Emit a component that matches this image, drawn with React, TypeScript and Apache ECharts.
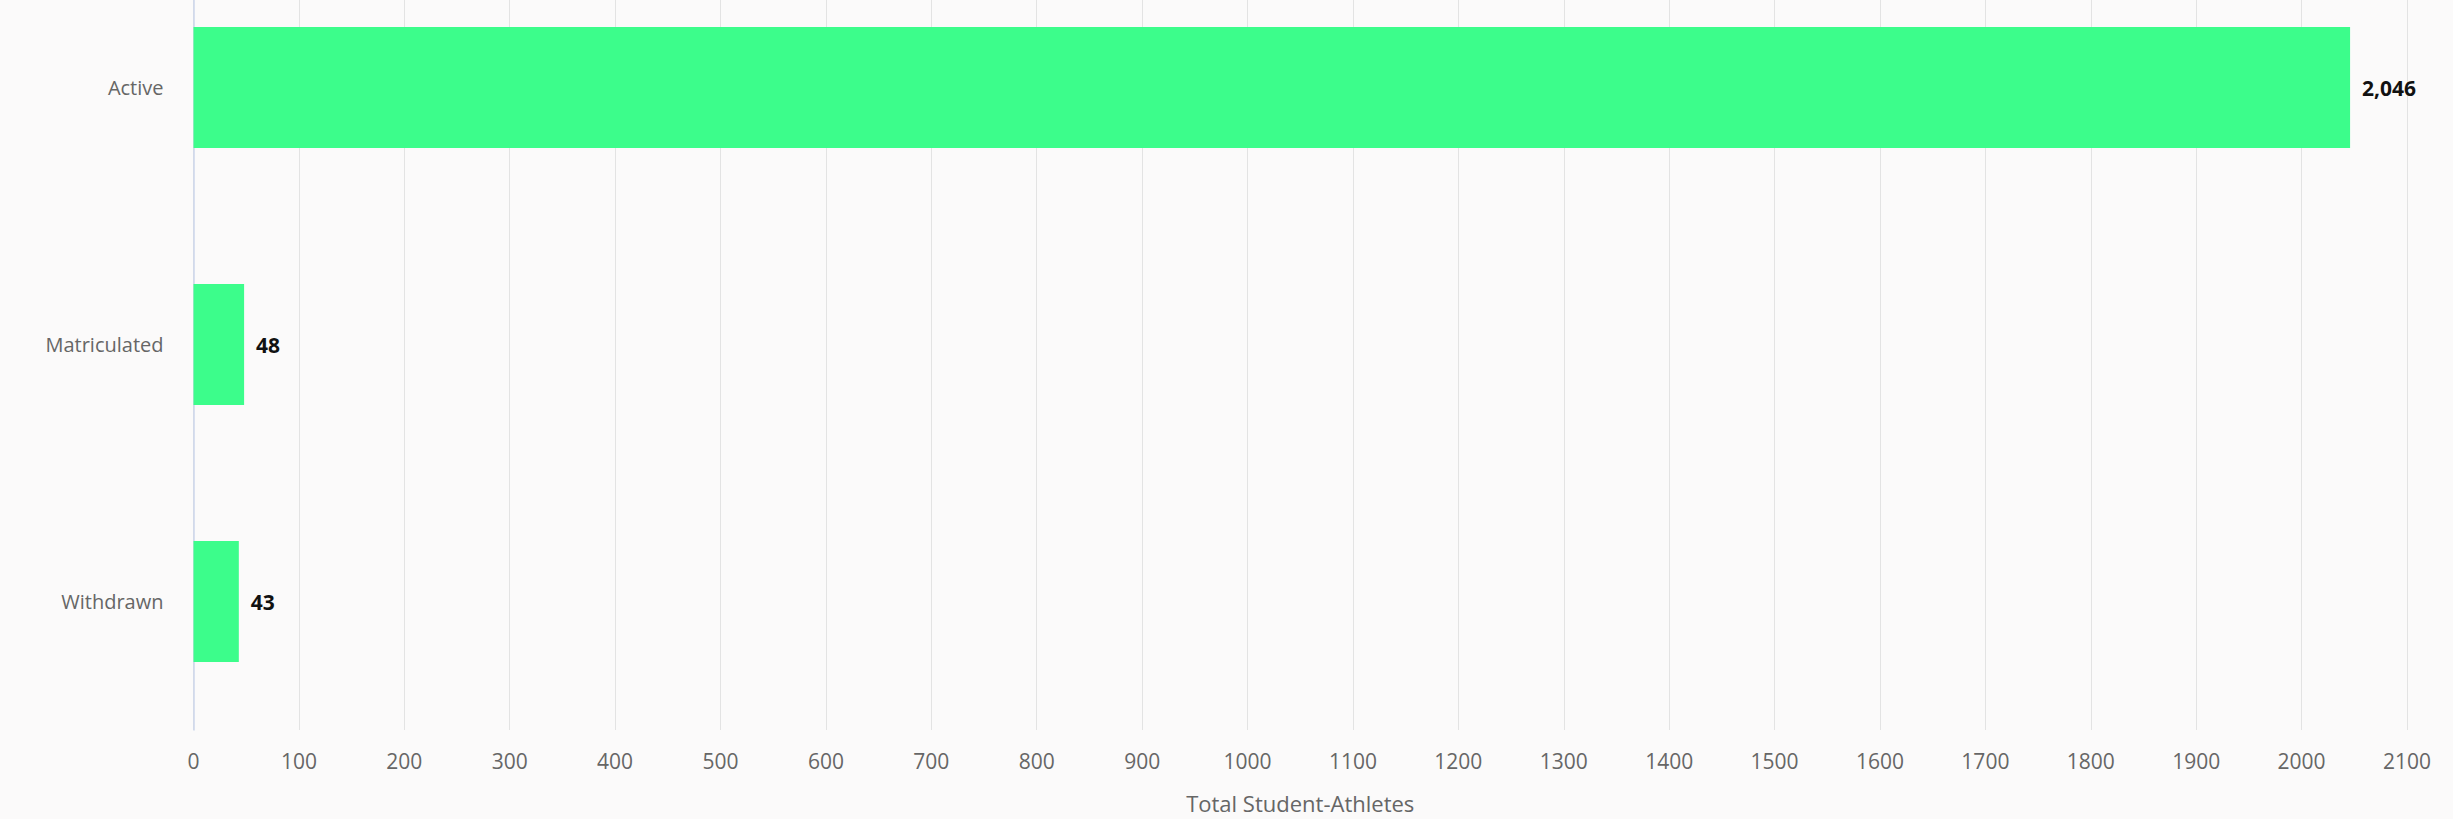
import React, { useEffect, useRef } from "react";
import * as echarts from "echarts";

const categories = ["Active", "Matriculated", "Withdrawn"];
const values = [2046, 48, 43];
const xTicks = { min: 0, max: 2100, interval: 100 };
const xTitle = "Total Student-Athletes";

export default function App() {
  const ref = useRef<HTMLDivElement>(null);
  useEffect(() => {
    if (!ref.current) return;
    const chart = echarts.init(ref.current, undefined, { renderer: "svg" });
    chart.setOption({
      animation: false,
      backgroundColor: "#fbfafa",
      textStyle: { fontFamily: "Open Sans" },
      grid: { left: 193.5, right: 46, top: 0, bottom: 84, containLabel: false },
      xAxis: {
        type: "value",
        min: xTicks.min,
        max: xTicks.max,
        interval: xTicks.interval,
        axisLine: { show: false },
        axisTick: { show: false },
        splitLine: { show: true, lineStyle: { color: "#e3e3e3", width: 1 } },
        axisLabel: {
          color: "#666666",
          fontSize: 21,
          margin: 20,
          fontFamily: "Open Sans",
          formatter: (v: number) => String(v),
        },
        name: xTitle,
        nameLocation: "middle",
        nameGap: 62,
        nameTextStyle: { color: "#666666", fontSize: 22, fontFamily: "Open Sans" },
      },
      yAxis: {
        type: "category",
        inverse: true,
        data: categories,
        axisLine: { show: true, lineStyle: { color: "#ccd6eb", width: 1.5 } },
        axisTick: { show: false },
        splitLine: { show: false },
        axisLabel: { color: "#666666", fontSize: 20, margin: 30, fontFamily: "Open Sans" },
      },
      series: [
        {
          type: "bar",
          data: values,
          barWidth: 121,
          itemStyle: { color: "#3cfd8b" },
          label: {
            show: true,
            position: "right",
            distance: 12,
            color: "#111111",
            fontWeight: "bold",
            fontSize: 21,
            fontFamily: "Open Sans",
            formatter: (p: any) => Number(p.value).toLocaleString("en-US"),
          },
        },
      ],
    });
    return () => chart.dispose();
  }, []);
  return (
    <div
      ref={ref}
      style={{ position: "fixed", left: 0, top: -41, width: 2453, height: 860 }}
    />
  );
}
